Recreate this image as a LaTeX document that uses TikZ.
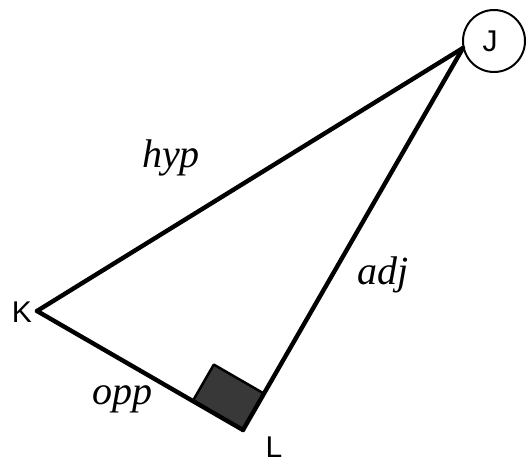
\documentclass[tikz,border=0pt]{standalone}
\usepackage{fontspec}
\setmainfont{Liberation Sans}
\newfontfamily\handfont{Liberation Serif}
\begin{document}
\begin{tikzpicture}[x=1pt,y=-1pt,
  edge/.style={line width=4.4pt, line cap=round, line join=round},
  vlabel/.style={font=\fontsize{30}{30}\selectfont, inner sep=0pt},
  hand/.style={font=\handfont\itshape\fontsize{40}{40}\selectfont, inner sep=0pt}]
\fill[white] (0,0) rectangle (528,465);
\useasboundingbox (0,0) rectangle (528,465);
% vertices
\coordinate (K) at (37,311);
\coordinate (J) at (463,48);
\coordinate (L) at (243,430);
\coordinate (Rl) at (192.8,401);
\coordinate (Rt) at (213.8,364.6);
\coordinate (Rr) at (264,393.6);
% right angle box
\filldraw[fill=black!78, draw=black, line width=2.5pt, line join=round] (L) -- (Rl) -- (Rt) -- (Rr) -- cycle;
% sides
\draw[edge] (K) -- (J);
\draw[edge] (J) -- (L);
\draw[edge] (K) -- (L);
% J circle
\node[circle, draw, line width=2pt, minimum size=62pt, inner sep=0pt] (Jc) at (494,41) {};
\node[vlabel] (Jt) at (490,41) {J};
\node[vlabel] (Kt) at (22,312) {K};
\node[vlabel] (Lt) at (274,447) {L};
% side labels
\node[hand] (hyp) at (171,158) {hyp};
\node[hand] (adj) at (383,275) {adj};
\node[hand] (opp) at (122,399) {opp};
\end{tikzpicture}
\end{document}
